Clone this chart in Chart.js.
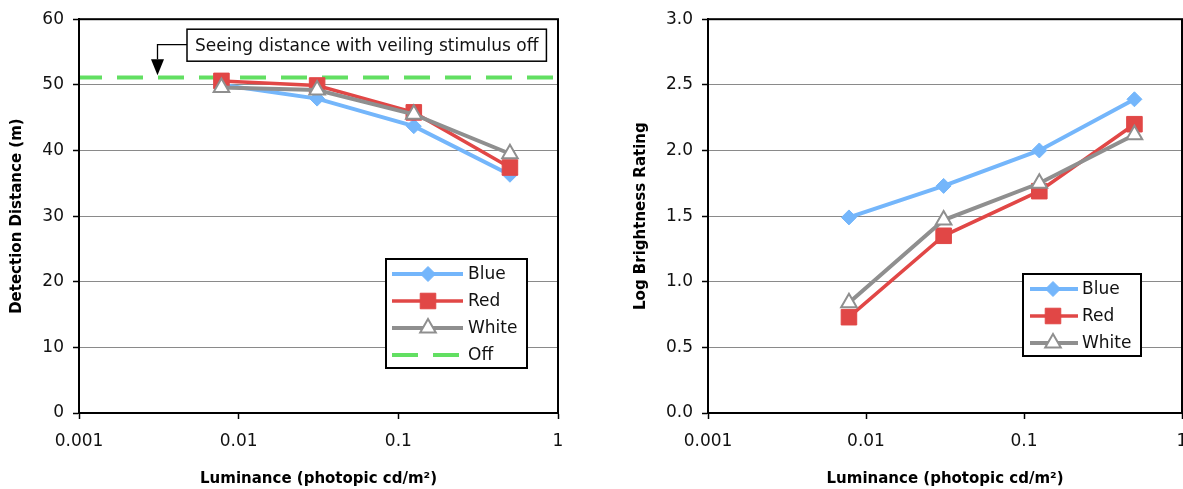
<!DOCTYPE html>
<html><head><meta charset="utf-8">
<script src="https://cdn.jsdelivr.net/npm/chart.js@4.4.1/dist/chart.umd.min.js"></script>
<style>
html,body{margin:0;padding:0;background:#fff;overflow:hidden;}
#wrap{position:relative;width:1183px;height:489px;overflow:hidden;}
.box{position:absolute;top:0;width:600px;height:489px;}
</style></head><body>
<div id="wrap">
<div class="box" style="left:0"><canvas id="c1" width="600" height="489"></canvas></div>
<div class="box" style="left:600px"><canvas id="c2" width="600" height="489"></canvas></div>
</div>
<script>
// ---- data ----
const luminance = [0.0078, 0.031, 0.125, 0.5];
const offRange = [0.001, 1];
const detBlue = [50.0, 47.9, 43.7, 36.3];
const detRed = [50.6, 49.9, 45.8, 37.4];
const detWhite = [49.6, 49.2, 45.5, 39.5];
const detOff = [51.1, 51.1];
const brightBlue = [1.49, 1.73, 2.00, 2.39];
const brightRed = [0.73, 1.35, 1.69, 2.20];
const brightWhite = [0.84, 1.47, 1.75, 2.12];
const xTicks = [0.001, 0.01, 0.1, 1];
const detTicks = [0, 10, 20, 30, 40, 50, 60];
const brightTicks = [0, 0.5, 1.0, 1.5, 2.0, 2.5, 3.0];
const seriesNames = ['Blue', 'Red', 'White', 'Off'];
const xTitle = 'Luminance (photopic cd/m\u00B2)';
const annotationText = 'Seeing distance with veiling stimulus off';

const FAM = '"DejaVu Sans", Verdana, sans-serif';
Chart.defaults.font.family = FAM;
Chart.defaults.color = '#111';

const C_BLUE = '#74b6fb', C_RED = '#e14746', C_GRAY = '#8f8f8f', C_GREEN = '#62df62';

function pts(xs, ys){ return xs.map((x,i)=>({x:x, y:ys[i]})); }

function series(name, xs, ys, kind){
  const base = {label:name, data:pts(xs,ys), fill:false, tension:0};
  if(kind==='blue') return Object.assign(base,{borderColor:C_BLUE,borderWidth:4,pointStyle:'rectRot',pointRadius:7.5,
    pointBackgroundColor:C_BLUE,pointBorderColor:C_BLUE,pointBorderWidth:1,order:3});
  if(kind==='red') return Object.assign(base,{borderColor:C_RED,borderWidth:3.5,pointStyle:'rect',pointRadius:11,
    pointBackgroundColor:C_RED,pointBorderColor:C_RED,pointBorderWidth:1,order:2});
  if(kind==='white') return Object.assign(base,{borderColor:C_GRAY,borderWidth:4,pointStyle:'triangle',pointRadius:9,
    pointBackgroundColor:'#fff',pointBorderColor:C_GRAY,pointBorderWidth:2,order:1});
  return Object.assign(base,{borderColor:C_GREEN,borderWidth:4,borderDash:[26,15],borderDashOffset:3,pointRadius:0,order:5});
}

const framePlugin = {
  id:'frame',
  afterDatasetsDraw(chart){
    const {ctx, chartArea:a} = chart;
    ctx.save(); ctx.strokeStyle='#000'; ctx.lineWidth=2;
    ctx.strokeRect(a.left, a.top, a.right-a.left, a.bottom-a.top);
    ctx.restore();
  }
};

const legendPlugin = {
  id:'boxLegend',
  afterDatasetsDraw(chart, args, o){
    const {ctx, chartArea:a} = chart;
    const x0 = a.right - o.right - o.width, y0 = a.bottom - o.bottom - o.height;
    ctx.save();
    ctx.fillStyle='#fff'; ctx.fillRect(x0,y0,o.width,o.height);
    ctx.strokeStyle='#000'; ctx.lineWidth=2; ctx.strokeRect(x0,y0,o.width,o.height);
    chart.data.datasets.forEach((ds,i)=>{
      const y = y0 + o.firstRow + i*o.rowGap;
      ctx.beginPath();
      ctx.setLineDash(ds.borderDash||[]); ctx.lineDashOffset=0;
      ctx.strokeStyle=ds.borderColor; ctx.lineWidth=ds.borderWidth;
      ctx.moveTo(x0+o.lineStart,y); ctx.lineTo(x0+o.lineEnd,y); ctx.stroke();
      ctx.setLineDash([]);
      if(ds.pointRadius>0){
        ctx.fillStyle=ds.pointBackgroundColor; ctx.strokeStyle=ds.pointBorderColor; ctx.lineWidth=ds.pointBorderWidth;
        Chart.helpers.drawPoint(ctx,{pointStyle:ds.pointStyle,radius:ds.pointRadius,borderWidth:ds.pointBorderWidth,rotation:0},x0+o.marker,y);
      }
      ctx.fillStyle='#111'; ctx.font='17px '+FAM; ctx.textBaseline='middle'; ctx.textAlign='left';
      ctx.fillText(ds.label, x0+o.textX, y+1);
    });
    ctx.restore();
  }
};

const annotationPlugin = {
  id:'callout',
  afterDatasetsDraw(chart, args, o){
    if(!o.text) return;
    const {ctx, chartArea:a} = chart;
    ctx.save();
    ctx.font='17px '+FAM;
    const tw = ctx.measureText(o.text).width;
    const bx = a.left + o.dx, by = a.top + o.dy, bw = tw + 2*o.pad, bh = o.h;
    ctx.fillStyle='#fff'; ctx.fillRect(bx,by,bw,bh);
    ctx.strokeStyle='#000'; ctx.lineWidth=1.5; ctx.strokeRect(bx,by,bw,bh);
    ctx.fillStyle='#111'; ctx.textBaseline='middle'; ctx.textAlign='left';
    ctx.fillText(o.text, bx+o.pad, by+bh/2+1);
    // arrow
    const ax = bx - o.arrowBack, ly = by + bh/2 - 0.5;
    ctx.beginPath(); ctx.lineWidth=1.3;
    ctx.moveTo(bx, ly); ctx.lineTo(ax, ly); ctx.lineTo(ax, o.headTop + a.top); ctx.stroke();
    ctx.beginPath(); ctx.fillStyle='#000';
    ctx.moveTo(ax-6.5, a.top+o.headTop); ctx.lineTo(ax+6.5, a.top+o.headTop); ctx.lineTo(ax, a.top+o.headTip); ctx.closePath(); ctx.fill();
    ctx.restore();
  }
};

function makeChart(id, datasets, yTicks, yMax, yTitle, yTitlePad, yWidth, padRight, yFmt, legendOpts, callout){
  return new Chart(document.getElementById(id), {
    type:'line',
    data:{datasets:datasets},
    plugins:[framePlugin, legendPlugin, annotationPlugin],
    options:{
      responsive:false, animation:false, devicePixelRatio:1,
      layout:{padding:{left:0, top:18, right:padRight, bottom:0}},
      plugins:{legend:{display:false}, tooltip:{enabled:false}, boxLegend:legendOpts, callout:callout},
      scales:{
        x:{type:'logarithmic', min:0.001, max:1,
          afterBuildTicks:s=>{ s.ticks = xTicks.map(v=>({value:v})); },
          afterFit:s=>{ s.height = 76; },
          ticks:{autoSkip:false, maxRotation:0, padding:12, color:'#111', font:{size:17},
            callback:v=>String(v)},
          grid:{drawOnChartArea:false, drawTicks:true, tickLength:6, tickColor:'#000', tickWidth:1.5},
          border:{display:true, color:'#000', width:2},
          title:{display:true, text:xTitle, color:'#000', font:{size:15, weight:'bold', lineHeight:1.2}, padding:{top:0, bottom:1}}
        },
        y:{type:'linear', min:0, max:yMax,
          afterBuildTicks:s=>{ s.ticks = yTicks.map(v=>({value:v})); },
          afterFit:s=>{ s.width = yWidth; },
          ticks:{padding:9, color:'#111', font:{size:17}, callback:yFmt},
          grid:{color:'#8a8a8a', lineWidth:1, drawTicks:true, tickLength:6, tickColor:'#000', tickWidth:1.5},
          border:{display:true, color:'#000', width:2},
          title:{display:true, text:yTitle, color:'#000', font:{size:15, weight:'bold', lineHeight:1.2}, padding:{top:yTitlePad, bottom:0}}
        }
      }
    }
  });
}

makeChart('c1', [
    series(seriesNames[0], luminance, detBlue, 'blue'),
    series(seriesNames[1], luminance, detRed, 'red'),
    series(seriesNames[2], luminance, detWhite, 'white'),
    series(seriesNames[3], offRange, detOff, 'off')
  ], detTicks, 60, 'Detection Distance (m)', 7.7, 79, 42, v=>String(v),
  {width:141, height:109, right:31, bottom:45, firstRow:15, rowGap:27, lineStart:6, lineEnd:77, marker:42, textX:82},
  {text:annotationText, dx:108, dy:10, pad:8, h:32, arrowBack:29.5, headTop:40, headTip:56});

makeChart('c2', [
    series(seriesNames[0], luminance, brightBlue, 'blue'),
    series(seriesNames[1], luminance, brightRed, 'red'),
    series(seriesNames[2], luminance, brightWhite, 'white')
  ], brightTicks, 3, 'Log Brightness Rating', 32, 108, 18, v=>Number(v).toFixed(1),
  {width:118, height:82, right:41, bottom:57, firstRow:15, rowGap:27, lineStart:7, lineEnd:55, marker:30, textX:59},
  {});
</script>
</body></html>
